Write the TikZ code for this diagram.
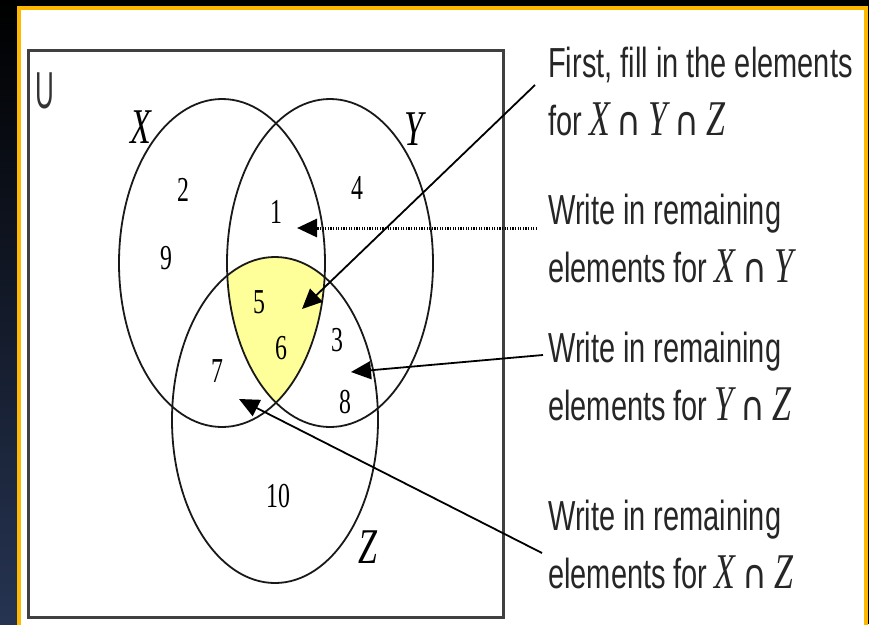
\documentclass[tikz,border=0pt]{standalone}
\usepackage{fontspec}
\usetikzlibrary{arrows.meta}
\newfontfamily\txtfont[FakeStretch=0.69]{Liberation Sans}
\newfontfamily\numfont[FakeStretch=0.68]{Liberation Serif}
\newfontfamily\ufont[FakeStretch=0.5]{Liberation Sans}
\newfontfamily\symfont[FakeStretch=0.85]{DejaVu Sans}
\definecolor{orangeb}{RGB}{255,184,0}
\definecolor{navyb}{RGB}{38,52,82}
\definecolor{venny}{RGB}{255,255,153}
\newcommand{\setv}[1]{{\numfont\itshape\fontsize{50}{50}\selectfont #1}}
\newcommand{\capv}{\,{\symfont\fontsize{40}{40}\selectfont ∩}\,}
\tikzset{
  venn/.style={draw=black!90, line width=1.8pt},
  num/.style={font=\numfont\fontsize{35}{35}\selectfont, inner sep=0},
  setlbl/.style={font=\numfont\itshape\fontsize{50}{50}\selectfont, inner sep=0},
  txt/.style={font=\txtfont\fontsize{42}{42}\selectfont, anchor=base west, inner sep=0, text=black!85},
  arr/.style={line width=1.8pt, -{Triangle[length=20pt,width=18pt]}},
}
\begin{document}
\begin{tikzpicture}[x=1pt,y=-1pt]
\useasboundingbox (0,0) rectangle (869,624);
% background
\fill[black] (0,0) rectangle (869,624);
\shade[top color=black, bottom color=navyb] (0,0) rectangle (19,624);
\filldraw[fill=white, draw=orangeb, line width=4pt] (19,8) -- (866,8) -- (866,630) -- (19,630) -- cycle;
% universe
\draw[line width=3pt, draw=black!75] (28,50) rectangle (503,617);
\node[font=\ufont\fontsize{52}{52}\selectfont, inner sep=0, text=black!80] (U) at (45,91) {U};
% centres
\coordinate (cX) at (222,263);
\coordinate (cY) at (330,263);
\coordinate (cZ) at (275,420);
% yellow triple intersection
\begin{scope}
  \clip (cX) ellipse [x radius=103pt, y radius=164pt];
  \clip (cY) ellipse [x radius=103pt, y radius=164pt];
  \fill[venny] (cZ) ellipse [x radius=103pt, y radius=163pt];
\end{scope}
\draw[venn] (cX) ellipse [x radius=103pt, y radius=164pt];
\draw[venn] (cY) ellipse [x radius=103pt, y radius=164pt];
\draw[venn] (cZ) ellipse [x radius=103pt, y radius=163pt];
% set labels
\node[setlbl] (lX) at (141,127) {X};
\node[setlbl] (lY) at (414,129) {Y};
\node[setlbl] (lZ) at (368,547) {Z};
% elements
\node[num] (n2) at (183,190) {2};
\node[num] (n9) at (166,258) {9};
\node[num] (n1) at (276,212) {1};
\node[num] (n4) at (357,188) {4};
\node[num] (n5) at (259,302) {5};
\node[num] (n6) at (281,348) {6};
\node[num] (n3) at (337,340) {3};
\node[num] (n7) at (217,371) {7};
\node[num] (n8) at (345,402) {8};
\node[num] (n10) at (278,496) {10};
% texts
\node[txt] (t1a) at (548,77) {First, fill in the elements};
\node[txt] (t1b) at (548,135) {for\,\setv{X}\capv\setv{Y}\capv\setv{Z}};
\node[txt] (t2a) at (548,224) {Write in remaining};
\node[txt] (t2b) at (548,282) {elements for\,\setv{X}\capv\setv{Y}};
\node[txt] (t3a) at (548,362) {Write in remaining};
\node[txt] (t3b) at (548,420) {elements for\,\setv{Y}\capv\setv{Z}};
\node[txt] (t4a) at (548,530) {Write in remaining};
\node[txt] (t4b) at (548,588) {elements for\,\setv{X}\capv\setv{Z}};
% arrow endpoints
\coordinate (a1s) at (535,85);
\coordinate (a1e) at (302,309);
\coordinate (a2s) at (537,228);
\coordinate (a2e) at (297,228);
\coordinate (a3s) at (543,355);
\coordinate (a3e) at (351,372);
\coordinate (a4s) at (542,553);
\coordinate (a4e) at (239,399);
\draw[arr] (a1s) -- (a1e);
\draw[arr, line width=3pt, dash pattern=on 1.3pt off 1.3pt] (a2s) -- (a2e);
\draw[arr] (a3s) -- (a3e);
\draw[arr] (a4s) -- (a4e);
\end{tikzpicture}
\end{document}
